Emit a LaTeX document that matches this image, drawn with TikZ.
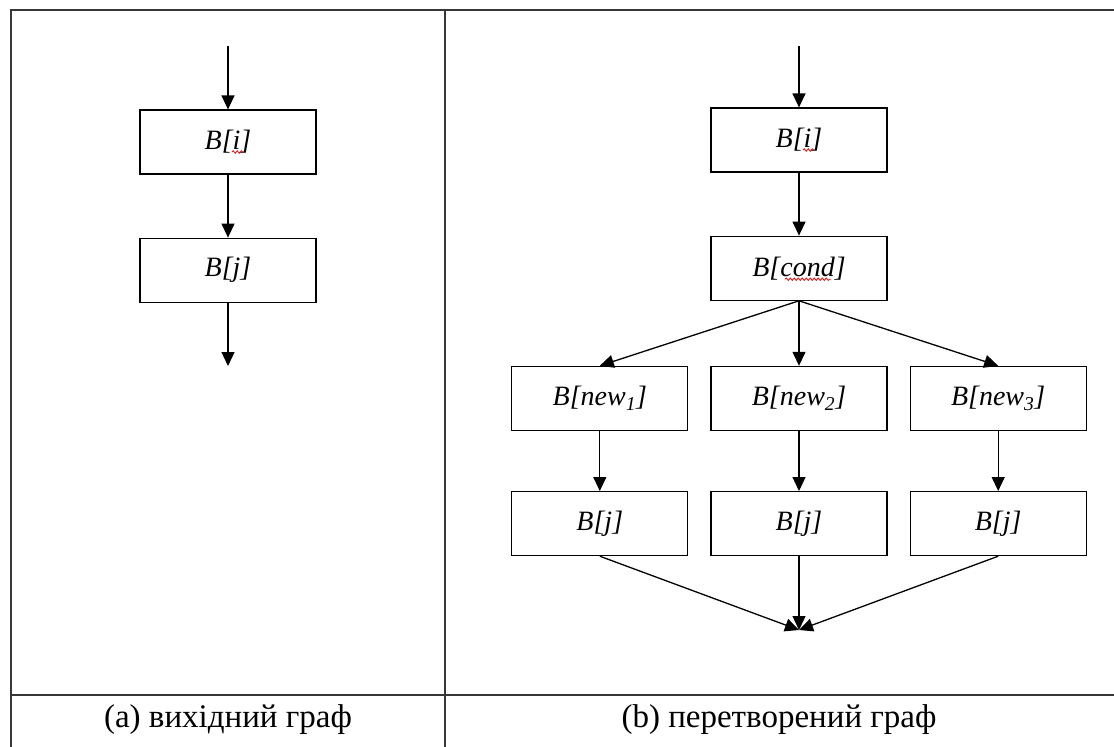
\documentclass[tikz,border=0pt]{standalone}
\usepackage{fontspec}
\setmainfont{Liberation Serif}
\usetikzlibrary{positioning,arrows.meta,decorations.pathmorphing}
\definecolor{rulegray}{RGB}{55,55,55}
\definecolor{spellred}{RGB}{225,30,30}

\begin{document}
\begin{tikzpicture}[x=1pt,y=-1pt,
  blk/.style={draw,line width=1.2pt,minimum width=176pt,minimum height=64pt,
    inner sep=0pt,font=\fontsize{28}{30}\selectfont\itshape},
  arr/.style={line width=1.3pt,-{Triangle[width=13pt,length=14pt]}},
  rule/.style={draw=rulegray,line width=1.8pt},
  wavy/.style={draw=spellred,line width=0.9pt,decorate,
    decoration={snake,amplitude=1.2pt,segment length=4pt}},
  capt/.style={font=\fontsize{33}{36}\selectfont}]

  \useasboundingbox (0,0) rectangle (1114,747);

  % table lines
  \draw[rule] (11,747) -- (11,10) -- (1114,10);
  \draw[rule] (445,10) -- (445,747);
  \draw[rule] (11,695) -- (1114,695);

  % left cell: original graph
  \node[blk] (li) at (228,142) {B[i]};
  \node[blk,below=63pt of li] (lj) {B[j]};
  \coordinate (lin) at (228,46);
  \coordinate (lout) at (228,366);
  \draw[arr] (lin) -- (li);
  \draw[arr] (li) -- (lj);
  \draw[arr] (lj) -- (lout);

  % right cell: transformed graph
  \node[blk] (ri) at (799,140) {B[i]};
  \node[blk,below=63pt of ri] (cond) {B[cond]};
  \node[blk,below=65pt of cond] (new2) {B[new\textsubscript{2}]};
  \node[blk,left=22pt of new2] (new1) {B[new\textsubscript{1}]};
  \node[blk,right=22pt of new2] (new3) {B[new\textsubscript{3}]};
  \foreach \k in {1,2,3}
    \node[blk,below=60pt of new\k] (rj\k) {B[j]};
  \coordinate (rin) at (799,46);
  \coordinate (join) at (799,630);

  \draw[arr] (rin) -- (ri);
  \draw[arr] (ri) -- (cond);
  \foreach \k in {1,2,3} {
    \draw[arr] (cond.south) -- (new\k.north);
    \draw[arr] (new\k) -- (rj\k);
    \draw[arr] (rj\k.south) -- (join);
  }

  % spell-check marks under i and cond
  \draw[wavy] ([xshift=4pt,yshift=-10pt]li.center) -- ++(12pt,0);
  \draw[wavy] ([xshift=4pt,yshift=-10pt]ri.center) -- ++(12pt,0);
  \draw[wavy] ([xshift=-14pt,yshift=-11pt]cond.center) -- ++(46pt,0);

  % captions
  \node[capt] (capa) at (228,720) {(a) вихідний граф};
  \node[capt] (capb) at (779,720) {(b) перетворений граф};

\end{tikzpicture}
\end{document}
